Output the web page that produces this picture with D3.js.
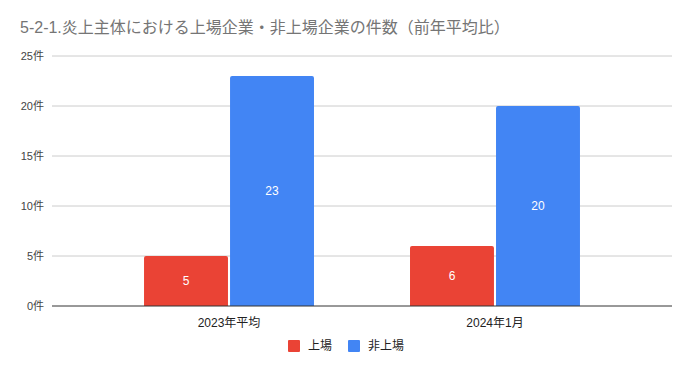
<!DOCTYPE html>
<html>
<head>
<meta charset="utf-8">
<script src="https://cdn.jsdelivr.net/npm/d3@7"></script>
<style>
  body { margin: 0; background: #fff; }
  svg { display: block; font-family: "Liberation Sans", Arial, "Noto Sans CJK JP", sans-serif; }
</style>
</head>
<body>
<div id="chart"></div>
<script>
// data
var categories = ["2023年平均", "2024年1月"];
var seriesNames = ["上場", "非上場"];
var listed = [5, 6];
var unlisted = [23, 20];
var yTicks = [0, 5, 10, 15, 20, 25];
var colors = ["#ea4335", "#4285f4"];

var width = 692, height = 371;
var margin = {top: 56, right: 20, bottom: 65, left: 52};
var plotW = width - margin.left - margin.right,
    plotH = height - margin.top - margin.bottom;

var svg = d3.select("#chart")
  .append("svg")
  .attr("width", width)
  .attr("height", height);

// title
svg.append("text")
  .attr("x", 20)
  .attr("y", 33)
  .style("font-size", "16px")
  .style("fill", "#757575")
  .text("5-2-1.炎上主体における上場企業・非上場企業の件数（前年平均比）");

var g = svg.append("g")
  .attr("transform", "translate(" + margin.left + "," + margin.top + ")");

var y = d3.scaleLinear().domain([0, 25]).range([plotH, 0]);

var x = d3.scaleBand()
  .domain(categories)
  .range([0, plotW])
  .paddingInner(0.361)
  .paddingOuter(0.346);

var xs = d3.scaleBand()
  .domain(seriesNames)
  .range([0, x.bandwidth()])
  .paddingInner(0.024);

// gridlines
g.selectAll(".grid")
  .data(yTicks.filter(function(d){ return d > 0; }))
  .enter()
  .append("line")
    .attr("x1", 0)
    .attr("x2", plotW)
    .attr("y1", function(d){ return y(d); })
    .attr("y2", function(d){ return y(d); })
    .attr("stroke", "#cccccc");

// y labels
g.selectAll(".ylab")
  .data(yTicks)
  .enter()
  .append("text")
    .attr("x", -8)
    .attr("y", function(d){ return y(d); })
    .attr("dy", "0.35em")
    .style("text-anchor", "end")
    .style("font-size", "11px")
    .style("fill", "#444")
    .text(function(d){ return d + "件"; });

// rows for the bars
var rows = [];
categories.forEach(function(c, i){
  rows.push({cat: c, s: seriesNames[0], v: listed[i], col: colors[0]});
  rows.push({cat: c, s: seriesNames[1], v: unlisted[i], col: colors[1]});
});

g.selectAll(".bar")
  .data(rows)
  .enter()
  .append("path")
    .attr("fill", function(d){ return d.col; })
    .attr("d", function(d){
      var x0 = x(d.cat) + xs(d.s), w = xs.bandwidth();
      var y0 = y(d.v), h = y(0) - y(d.v), r = 2;
      return "M" + x0 + "," + (y0 + h) +
             "V" + (y0 + r) + "Q" + x0 + "," + y0 + " " + (x0 + r) + "," + y0 +
             "H" + (x0 + w - r) + "Q" + (x0 + w) + "," + y0 + " " + (x0 + w) + "," + (y0 + r) +
             "V" + (y0 + h) + "Z";
    });

g.selectAll(".val")
  .data(rows)
  .enter()
  .append("text")
    .attr("x", function(d){ return x(d.cat) + xs(d.s) + xs.bandwidth() / 2; })
    .attr("y", function(d){ return (y(d.v) + y(0)) / 2; })
    .attr("dy", "0.35em")
    .style("text-anchor", "middle")
    .style("font-size", "12px")
    .style("fill", "#fff")
    .text(function(d){ return d.v; });

// baseline
g.append("line")
  .attr("x1", 0)
  .attr("x2", plotW)
  .attr("y1", y(0))
  .attr("y2", y(0))
  .attr("stroke", "#333");

// x labels
g.selectAll(".xlab")
  .data(categories)
  .enter()
  .append("text")
    .attr("x", function(d){ return x(d) + x.bandwidth() / 2; })
    .attr("y", plotH + 21)
    .style("text-anchor", "middle")
    .style("font-size", "12px")
    .style("fill", "#222")
    .text(function(d){ return d; });

// legend
var legendX = [288, 348];
var leg = svg.selectAll(".leg")
  .data(seriesNames)
  .enter()
  .append("g")
    .attr("transform", function(d, i){ return "translate(" + legendX[i] + ",340)"; });
leg.append("rect")
  .attr("width", 12)
  .attr("height", 12)
  .attr("rx", 1)
  .attr("fill", function(d, i){ return colors[i]; });
leg.append("text")
  .attr("x", 20)
  .attr("y", 6)
  .attr("dy", "0.35em")
  .style("font-size", "12px")
  .style("fill", "#222")
  .text(function(d){ return d; });
</script>
</body>
</html>
